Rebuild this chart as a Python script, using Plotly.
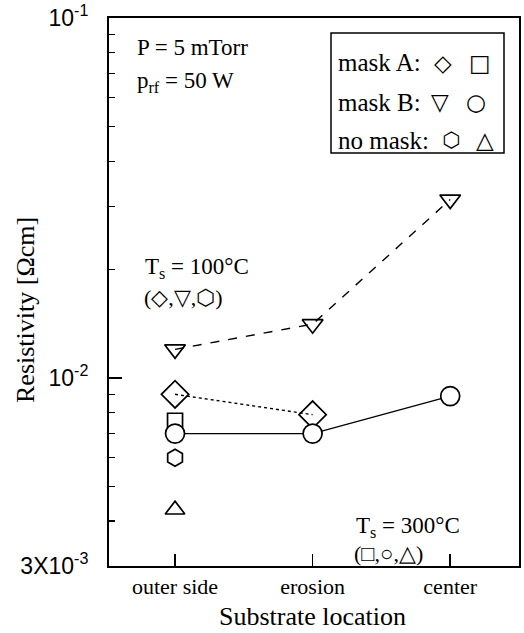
import plotly.graph_objects as go
import math

categories = ["outer side", "erosion", "center"]
# T_s = 100 C
maskA_100 = [0.0090, 0.0079]          # diamond, outer side & erosion
maskB_100 = [0.0120, 0.0141, 0.0313]  # triangle-down
nomask_100 = [0.0060]                 # hexagon, outer side
# T_s = 300 C
maskA_300 = [0.0076]                  # square, outer side
maskB_300 = [0.0070, 0.0070, 0.0089]  # circle
nomask_300 = [0.0043]                 # triangle-up, outer side

ytick_vals = [0.003, 0.01, 0.1]
ytick_text = ["3X10<sup>-3</sup>", "10<sup>-2</sup>", "10<sup>-1</sup>"]
yminor_vals = [0.004, 0.005, 0.006, 0.007, 0.008, 0.009,
               0.02, 0.03, 0.04, 0.05, 0.06, 0.07, 0.08, 0.09]

W, H = 524, 633
L, R, T, B = 109, 519, 18, 566   # plot area in page pixels

def px(x):
    return (x - L) / (R - L)

def py(y):
    return (B - y) / (B - T)

serif = "Liberation Serif"
sans = "Liberation Sans"
sym = "DejaVu Sans"

fig = go.Figure()

fig.add_trace(go.Scatter(x=categories, y=maskB_100, mode="lines+markers",
                         line=dict(color="black", width=1.4, dash="dash"),
                         marker=dict(symbol="triangle-down-open", size=18, color="black", line=dict(width=1.7))))
fig.add_trace(go.Scatter(x=categories[:2], y=maskA_100, mode="lines+markers",
                         line=dict(color="black", width=1.4, dash="dot"),
                         marker=dict(symbol="diamond-open", size=21, color="black", line=dict(width=1.7))))
fig.add_trace(go.Scatter(x=categories[:1], y=maskA_300, mode="markers",
                         marker=dict(symbol="square-open", size=15, color="black", line=dict(width=1.7))))
fig.add_trace(go.Scatter(x=categories, y=maskB_300, mode="lines+markers",
                         line=dict(color="black", width=1.4),
                         marker=dict(symbol="circle", size=19, color="white", line=dict(color="black", width=1.7))))
fig.add_trace(go.Scatter(x=categories[:1], y=nomask_100, mode="markers",
                         marker=dict(symbol="hexagon-open", size=17, color="black", line=dict(width=1.7))))
fig.add_trace(go.Scatter(x=categories[:1], y=nomask_300, mode="markers",
                         marker=dict(symbol="triangle-up-open", size=17, color="black", line=dict(width=1.7))))

fig.update_layout(
    width=W, height=H,
    margin=dict(l=L, r=W - R, t=T, b=H - B),
    paper_bgcolor="white", plot_bgcolor="white",
    showlegend=False,
    font=dict(family=serif, color="black"),
)
fig.update_xaxes(
    type="category", range=[-0.48, 2.5], automargin=False,
    showline=True, linecolor="black", linewidth=2, mirror=True,
    ticks="inside", ticklen=12, tickwidth=1.5, tickcolor="black",
    showgrid=False, zeroline=False,
    tickfont=dict(family=serif, size=22), ticklabelstandoff=0,
)
fig.update_yaxes(
    type="log", range=[math.log10(0.003), -1], automargin=False,
    showline=True, linecolor="black", linewidth=2, mirror=True,
    tickvals=ytick_vals, ticktext=ytick_text,
    ticks="inside", ticklen=13, tickwidth=1.5, tickcolor="black",
    minor=dict(tickvals=yminor_vals, ticks="inside", ticklen=6, tickwidth=1.2, tickcolor="black", showgrid=False),
    showgrid=False, zeroline=False,
    tickfont=dict(family=sans, size=23), ticklabelstandoff=14,
    ticklabeloverflow="allow",
)

def txt(x, y, s, size=23, anchor="left", family=serif, angle=0):
    fig.add_annotation(x=px(x), y=py(y), xref="paper", yref="paper", text=s,
                       showarrow=False, xanchor=anchor, yanchor="middle",
                       textangle=angle, font=dict(family=family, size=size, color="black"))

# axis titles
txt(25, 310, "Resistivity [Ωcm]", size=26, anchor="center", angle=-90)
txt(312, 616, "Substrate location", size=26, anchor="center")

txt(135, 47, "P = 5 mTorr")
txt(135, 82, "p<sub>rf</sub> = 50 W")

# legend box
fig.add_shape(type="rect", xref="paper", yref="paper",
              x0=px(331), x1=px(504), y0=py(33), y1=py(153),
              line=dict(color="black", width=1.5), fillcolor="white")
txt(336, 63, "mask A:", size=25)
txt(336, 102, "mask B:", size=25)
txt(336, 140, "no mask:", size=25)
txt(443, 63, "◇", size=23, anchor="center", family=sym)
txt(480, 63, "□", size=23, anchor="center", family=sym)
txt(440, 102, "▽", size=23, anchor="center", family=sym)
txt(476, 102, "○", size=23, anchor="center", family=sym)
txt(451, 140, "⬡", size=21, anchor="center", family=sym)
txt(485, 140, "△", size=23, anchor="center", family=sym)

txt(143, 268, "T<sub>s</sub> = 100°C")
txt(142, 297, "(◇,▽,⬡)", size=22)
txt(354, 527, "T<sub>s</sub> = 300°C")
txt(352, 553, "(□,○,△)", size=22)

fig.write_html("out.html",
               config={"displayModeBar": False, "staticPlot": True},
               post_script="document.body.style.margin='0';document.body.style.overflow='hidden';")
